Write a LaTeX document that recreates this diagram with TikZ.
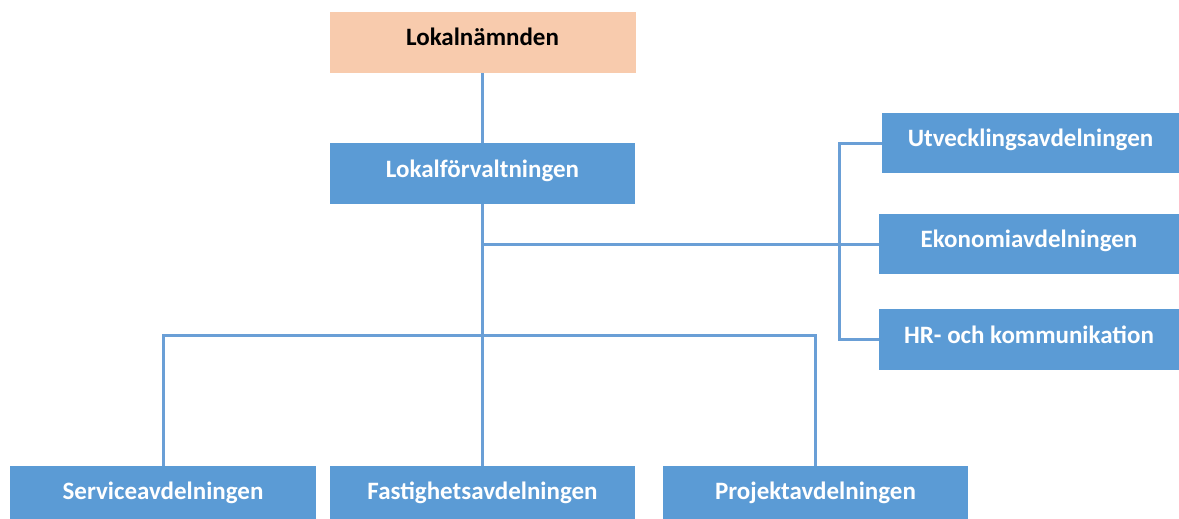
\documentclass[tikz,border=0pt]{standalone}
\usepackage{fontspec}
\setmainfont{Carlito}
\definecolor{boxblue}{HTML}{5B9BD5}
\definecolor{peach}{HTML}{F8CBAD}
\definecolor{linkblue}{HTML}{6A9FD6}
\begin{document}
\begin{tikzpicture}[x=1pt,y=-1pt,
  unit/.style={rectangle, fill=boxblue, text=white, inner sep=0pt,
    text height=17pt, text depth=10pt,
    font=\fontsize{25}{30}\selectfont\bfseries},
  topunit/.style={unit, fill=peach, text=black},
  link/.style={draw=linkblue, line width=3pt}]
\useasboundingbox (0,0) rectangle (1179,519);
\begin{scope}
\clip (0,0) rectangle (1179,519);
\node[topunit, minimum width=306, minimum height=61] (nam) at (482.5,42.5) {Lokalnämnden};
\node[unit, minimum width=305, minimum height=61] (forv) at (482.5,173.5) {Lokalförvaltningen};
\node[unit, minimum width=297, minimum height=60] (utv) at (1030.5,143) {Utvecklingsavdelningen};
\node[unit, minimum width=300, minimum height=60] (ek) at (1029,244) {Ekonomiavdelningen};
\node[unit, minimum width=300, minimum height=61] (hr) at (1029,339.5) {HR- och kommunikation};
\node[unit, minimum width=306, minimum height=59] (serv) at (163,495.5) {Serviceavdelningen};
\node[unit, minimum width=305, minimum height=59] (fast) at (482.5,495.5) {Fastighetsavdelningen};
\node[unit, minimum width=305, minimum height=59] (proj) at (815.5,495.5) {Projektavdelningen};
\end{scope}
\coordinate (trunk) at (839,244);
\coordinate (bus) at (0,335);
\draw[link] (nam.south) -- (forv.north);
\draw[link] (forv.south) -- (fast.north);
\draw[link] (ek.west -| forv.south) -- (ek.west);
\draw[link] (utv.west) -| (trunk) |- (hr.west);
\draw[link] (serv.north) -- (serv.north |- bus) -- (proj.north |- bus) -- (proj.north);
\end{tikzpicture}
\end{document}
